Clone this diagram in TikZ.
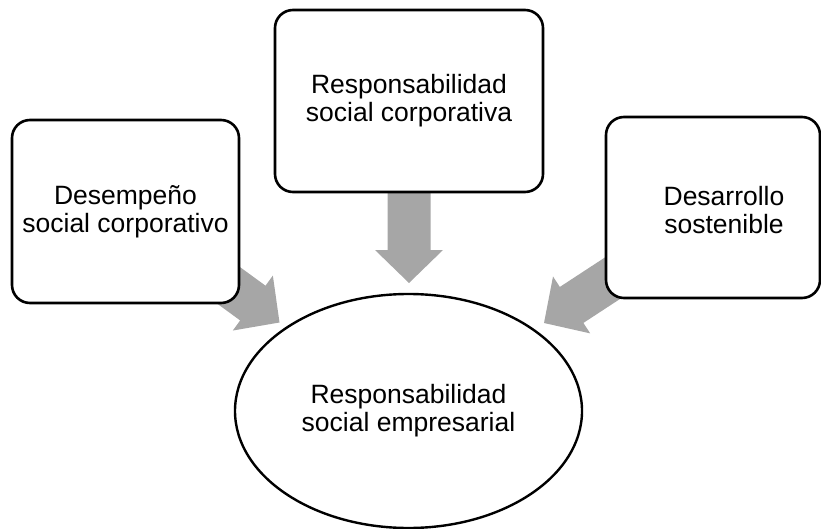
\documentclass[tikz,border=0pt]{standalone}
\usepackage{fontspec}
\setmainfont{Liberation Sans}
\usetikzlibrary{calc,shapes.geometric}
\pgfdeclarelayer{background}
\pgfsetlayers{background,main}
\definecolor{arrowgray}{RGB}{166,166,166}
\newcommand\fatarrow[2]{%
  \coordinate (#1-b) at ($(#2)!33pt!(#1)$);
  \fill[arrowgray]
    ($(#1)!21.5pt!90:(#2)$) --
    ($(#1-b)!21.5pt!-90:(#1)$) --
    ($(#1-b)!34pt!-90:(#1)$) --
    (#2) --
    ($(#1-b)!34pt!90:(#1)$) --
    ($(#1-b)!21.5pt!90:(#1)$) --
    ($(#1)!21.5pt!-90:(#2)$) -- cycle;}
\begin{document}
\begin{tikzpicture}[x=1pt,y=-1pt,
  every node/.style={font=\fontsize{26.5}{28}\selectfont},
  roundbox/.style={draw=black, line width=2.6pt, fill=white, rounded corners=18pt,
    inner sep=0pt, align=center},
  ovalnode/.style={draw=black, line width=2.4pt, fill=white, ellipse,
    inner sep=0pt, align=center},
  lbl/.style={align=center, inner sep=0pt}]
\useasboundingbox (0,0) rectangle (821,529);

\node[roundbox, minimum width=227pt, minimum height=183pt] (dsc) at (125.5,211.5)
  {Desempeño\\social corporativo};
\node[roundbox, minimum width=268pt, minimum height=182pt] (rsc) at (409,101)
  {Responsabilidad\\social corporativa};
\node[roundbox, minimum width=214pt, minimum height=181pt] (ds) at (713,207.5) {};
\node[lbl] (dst) at (724,210) {Desarrollo\\sostenible};
\node[ovalnode, minimum width=347pt, minimum height=234pt] (rse) at (408.5,411)
  {Responsabilidad\\social empresarial};

\coordinate (sL) at (202,266);
\coordinate (tL) at (279.5,322.5);
\coordinate (sT) at (409,185);
\coordinate (tT) at (409,283);
\coordinate (sR) at (623.5,271);
\coordinate (tR) at (544,323);

\begin{pgfonlayer}{background}
\fatarrow{sL}{tL}
\fatarrow{sT}{tT}
\fatarrow{sR}{tR}
\end{pgfonlayer}
\end{tikzpicture}
\end{document}
